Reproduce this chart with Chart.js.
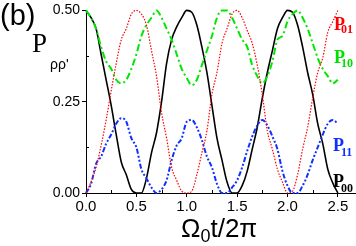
<!DOCTYPE html>
<html>
<head>
<meta charset="utf-8">
<script src="https://cdn.jsdelivr.net/npm/chart.js@4/dist/chart.umd.min.js"></script>
<style>
  body { margin: 0; background: #fff; }
  #wrap { position: relative; width: 356px; height: 246px; overflow: hidden; }
  canvas { position: absolute; left: 0; top: 0; }
  .t { position: absolute; line-height: 1; white-space: nowrap; }
  .sans { font-family: "Liberation Sans", Arial, sans-serif; }
  .serif { font-family: "Liberation Serif", "Times New Roman", serif; }
  .lbl { font-family: "Liberation Serif", serif; font-weight: bold; }
</style>
</head>
<body>
<div id="wrap">
  <canvas id="chart" width="356" height="246"></canvas>
  <div class="t sans" style="left:0px;top:1px;font-size:29px;">(b)</div>
  <div class="t serif" style="left:32px;top:30px;font-size:27px;">P</div>
  <div class="t sans" style="left:50px;top:57px;font-size:14px;">ρρ'</div>
  <div class="t sans" style="left:181px;top:215px;font-size:26px;">Ω<span style="font-size:18px;position:relative;top:5px;">0</span>t/2π</div>

  <div class="t lbl" style="left:334px;top:15px;font-size:18px;color:#ff0000;">P</div>
  <div class="t lbl" style="left:341px;top:23px;font-size:12px;color:#ff0000;">01</div>
  <div class="t lbl" style="left:334px;top:48px;font-size:18px;color:#00e000;">P</div>
  <div class="t lbl" style="left:341px;top:57px;font-size:12px;color:#00e000;">10</div>
  <div class="t lbl" style="left:333px;top:136px;font-size:18px;color:#1030ff;">P</div>
  <div class="t lbl" style="left:341px;top:146px;font-size:12px;color:#1030ff;">11</div>
  <div class="t lbl" style="left:333px;top:172px;font-size:18px;color:#000;">P</div>
  <div class="t lbl" style="left:341px;top:182px;font-size:12px;color:#000;">00</div>
</div>
<script>
// time axis, Omega0 t / 2pi
const times = [
  0.00, 0.05, 0.10, 0.15, 0.20, 0.25, 0.30, 0.35, 0.40, 0.45,
  0.50, 0.55, 0.60, 0.65, 0.70, 0.75, 0.80, 0.85, 0.90, 0.95,
  1.00, 1.05, 1.10, 1.15, 1.20, 1.25, 1.30, 1.35, 1.40, 1.45,
  1.50, 1.55, 1.60, 1.65, 1.70, 1.75, 1.80, 1.85, 1.90, 1.95,
  2.00, 2.05, 2.10, 2.15, 2.20, 2.25, 2.30, 2.35, 2.40, 2.45,
  2.50
];

const p00 = [
  0.50, 0.48, 0.45, 0.38, 0.31, 0.24, 0.16, 0.085, 0.05, 0.01,
  0.00, 0.00, 0.04, 0.11, 0.165, 0.25, 0.355, 0.42, 0.455, 0.48,
  0.50, 0.495, 0.46, 0.40, 0.33, 0.24, 0.15, 0.09, 0.03, 0.00,
  0.00, 0.02, 0.06, 0.12, 0.18, 0.26, 0.33, 0.39, 0.45, 0.48,
  0.50, 0.495, 0.46, 0.40, 0.33, 0.27, 0.19, 0.135, 0.065, 0.027,
  0.00
];

const p01 = [
  0.00, 0.03, 0.07, 0.13, 0.20, 0.28, 0.355, 0.42, 0.45, 0.49,
  0.50, 0.49, 0.46, 0.39, 0.32, 0.22, 0.15, 0.07, 0.035, 0.005,
  0.00, 0.005, 0.05, 0.11, 0.17, 0.27, 0.33, 0.41, 0.45, 0.49,
  0.50, 0.48, 0.445, 0.41, 0.35, 0.27, 0.17, 0.12, 0.065, 0.03,
  0.00, 0.005, 0.05, 0.12, 0.18, 0.26, 0.33, 0.37, 0.44, 0.47,
  0.50
];

const p10 = [
  0.50, 0.48, 0.45, 0.40, 0.36, 0.34, 0.31, 0.30, 0.31, 0.34,
  0.38, 0.43, 0.46, 0.48, 0.50, 0.48, 0.45, 0.42, 0.38, 0.34,
  0.315, 0.295, 0.31, 0.35, 0.39, 0.43, 0.48, 0.50, 0.50, 0.48,
  0.45, 0.42, 0.40, 0.35, 0.32, 0.30, 0.32, 0.36, 0.42, 0.43,
  0.47, 0.49, 0.50, 0.48, 0.45, 0.41, 0.37, 0.34, 0.32, 0.30,
  0.31
];

const p11 = [
  0.00, 0.025, 0.08, 0.10, 0.135, 0.16, 0.19, 0.205, 0.195, 0.15,
  0.125, 0.065, 0.04, 0.015, 0.00, 0.01, 0.035, 0.09, 0.13, 0.15,
  0.195, 0.20, 0.18, 0.145, 0.10, 0.07, 0.025, 0.00, 0.00, 0.015,
  0.035, 0.07, 0.115, 0.155, 0.185, 0.20, 0.185, 0.155, 0.12, 0.06,
  0.02, 0.00, 0.00, 0.02, 0.05, 0.09, 0.125, 0.16, 0.19, 0.20,
  0.19
];

const xTicks = [0, 0.5, 1.0, 1.5, 2.0, 2.5];
const yTicks = [0, 0.25, 0.5];
const xMinor = [0.25, 0.75, 1.25, 1.75, 2.25];
const yMinor = [0.125, 0.375];

const pts = vals => times.map((t, i) => ({ x: t, y: vals[i] }));

// short inner ticks between the labelled ones
const minorTicks = {
  id: 'minorTicks',
  afterDraw(chart) {
    const { ctx, chartArea, scales } = chart;
    ctx.save();
    ctx.strokeStyle = '#000';
    ctx.lineWidth = 1;
    ctx.beginPath();
    xMinor.forEach(v => {
      const px = Math.round(scales.x.getPixelForValue(v)) + 0.5;
      ctx.moveTo(px, chartArea.bottom);
      ctx.lineTo(px, chartArea.bottom - 3);
    });
    yMinor.forEach(v => {
      const py = Math.round(scales.y.getPixelForValue(v)) + 0.5;
      ctx.moveTo(chartArea.left, py);
      ctx.lineTo(chartArea.left + 3, py);
    });
    ctx.stroke();
    ctx.restore();
  }
};

const tickFont = size => ({ family: '"Liberation Sans", Arial, sans-serif', size: size });

new Chart(document.getElementById('chart'), {
  type: 'line',
  data: {
    datasets: [
      {
        label: 'P01',
        data: pts(p01),
        borderColor: '#ff0000',
        borderWidth: 1.2,
        borderDash: [1.5, 1.5],
      },
      {
        label: 'P10',
        data: pts(p10),
        borderColor: '#00e600',
        borderWidth: 2,
        borderDash: [7, 3, 2, 3],
      },
      {
        label: 'P11',
        data: pts(p11),
        borderColor: '#1030ff',
        borderWidth: 2,
        borderDash: [5, 2, 2, 2, 2, 2],
      },
      {
        label: 'P00',
        data: pts(p00),
        borderColor: '#000000',
        borderWidth: 1.6,
      }
    ]
  },
  options: {
    responsive: false,
    animation: false,
    layout: { padding: { top: 6, right: 0, left: 0, bottom: 0 } },
    elements: {
      point: { radius: 0 },
      line: { cubicInterpolationMode: 'monotone', fill: false }
    },
    datasets: { line: { clip: false } },
    plugins: {
      legend: { display: false },
      tooltip: { enabled: false }
    },
    scales: {
      x: {
        type: 'linear',
        min: 0,
        max: 2.68,
        afterBuildTicks: s => { s.ticks = xTicks.map(v => ({ value: v })); },
        afterFit: s => { s.height = 53; },
        ticks: {
          callback: v => v.toFixed(1),
          font: tickFont(15),
          color: '#000',
          padding: 1,
          maxRotation: 0,
          autoSkip: false
        },
        grid: { drawOnChartArea: false, tickLength: 4, color: '#000' },
        border: { color: '#000', width: 1 }
      },
      y: {
        min: 0,
        max: 0.5,
        afterBuildTicks: s => { s.ticks = yTicks.map(v => ({ value: v })); },
        afterFit: s => { s.width = 86; },
        ticks: {
          callback: v => v.toFixed(2),
          font: tickFont(14),
          color: '#000',
          padding: 2
        },
        grid: { drawOnChartArea: false, tickLength: 4, color: '#000' },
        border: { color: '#000', width: 1 }
      }
    }
  },
  plugins: [minorTicks]
});
</script>
</body>
</html>
